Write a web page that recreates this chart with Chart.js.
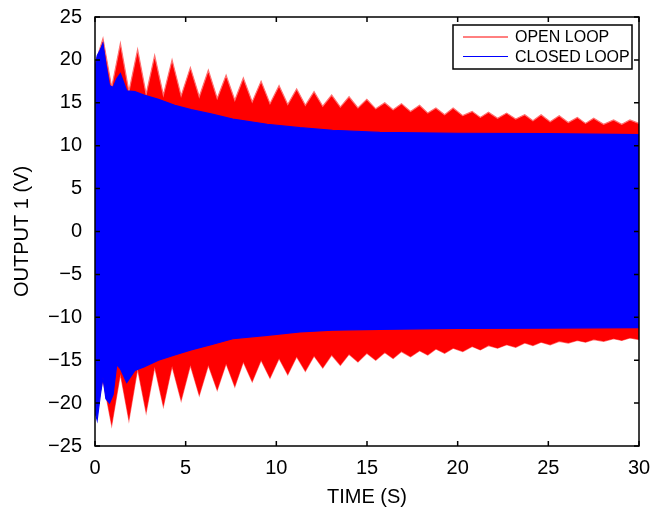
<!DOCTYPE html>
<html>
<head>
<meta charset="utf-8">
<script src="https://cdn.jsdelivr.net/npm/chart.js@4.4.1/dist/chart.umd.min.js"></script>
<style>
  html, body { margin: 0; padding: 0; background: #fff; }
</style>
</head>
<body>
<canvas id="chart" width="654" height="515"></canvas>
<script>
const SERIES_NAMES = ["OPEN LOOP", "CLOSED LOOP"];
const SERIES_COLORS = ["#ff0000", "#0000ff"];
const EDGE_COLORS = ["#ff7070", "#0000ff"];
const X_TICKS = [0, 5, 10, 15, 20, 25, 30];
const Y_TICKS = [-25, -20, -15, -10, -5, 0, 5, 10, 15, 20, 25];

const openTime = [0,
  0.44, 0.92, 1.40, 1.87, 2.35, 2.82, 3.29, 3.77, 4.25, 4.75,
  5.26, 5.75, 6.25, 6.74, 7.23, 7.71, 8.18, 8.67, 9.16, 9.65,
  10.15, 10.63, 11.12, 11.6, 12.08, 12.56, 13.05, 13.53, 14.01, 14.5,
  14.99, 15.48, 15.98, 16.44, 16.9, 17.4, 17.9, 18.35, 18.8, 19.28,
  19.75, 20.28, 20.8, 21.25, 21.7, 22.2, 22.7, 23.2, 23.7, 24.15,
  24.6, 25.1, 25.6, 26.1, 26.6, 27.05, 27.5, 28.05, 28.6, 29.05,
  29.5, 30];
const openUpper = [19.5,
  22.5, 16.8, 21.9, 16.3, 21.2, 16.0, 20.5, 15.9, 20.0, 15.8,
  19.1, 15.7, 18.8, 15.5, 18.2, 15.3, 17.9, 15.1, 17.5, 14.9,
  17.0, 14.8, 16.6, 14.7, 16.3, 14.6, 15.9, 14.5, 15.7, 14.4,
  15.4, 14.3, 15.0, 14.2, 14.9, 14.0, 14.7, 13.8, 14.4, 13.6,
  14.4, 13.5, 14.0, 13.3, 13.9, 13.2, 13.8, 13.1, 13.6, 12.9,
  13.6, 12.8, 13.5, 12.7, 13.3, 12.6, 13.2, 12.5, 13.0, 12.5,
  13.0, 12.6];
const openLower = [-21.5,
  -17.3, -22.6, -16.6, -22.0, -16.0, -21.1, -15.8, -20.4, -15.7, -19.7,
  -15.6, -19.1, -15.6, -18.5, -15.4, -18.1, -15.2, -17.5, -15.0, -17.1,
  -14.8, -16.7, -14.6, -16.3, -14.5, -15.9, -14.4, -15.6, -14.3, -15.2,
  -14.2, -15.0, -14.1, -14.8, -14.0, -14.6, -13.9, -14.4, -13.7, -14.2,
  -13.6, -14.0, -13.4, -13.8, -13.3, -13.6, -13.2, -13.5, -13.0, -13.3,
  -12.9, -13.2, -12.8, -13.0, -12.7, -12.9, -12.6, -12.8, -12.5, -12.7,
  -12.4, -12.6];

// closed loop envelope
const closedTime = [0, 0.12, 0.3, 0.44, 0.6, 0.8, 1.0, 1.2, 1.4, 1.75, 2.2, 2.7,
  3.5, 4.4, 5.3, 6.4, 7.6, 9.5, 11.3, 13.1, 15.7, 20, 25, 30];
const closedUpper = [19.0, 20.5, 21.2, 21.9, 19.5, 17.0, 16.8, 17.8, 18.4, 16.4, 16.3, 15.9,
  15.4, 14.7, 14.2, 13.7, 13.1, 12.5, 12.1, 11.8, 11.55, 11.45, 11.4, 11.3];
const closedLower = [-21.0, -22.0, -19.0, -17.0, -19.5, -20.0, -19.0, -15.5, -16.0, -17.6, -16.2, -15.8,
  -15.0, -14.4, -13.8, -13.2, -12.5, -12.1, -11.7, -11.5, -11.4, -11.3, -11.25, -11.2];

const TICK_LEN = 5;
const FONT = "'Liberation Sans', Arial, sans-serif";

function toPoints(xs, ys) {
  return xs.map((x, i) => ({ x, y: ys[i] }));
}

// upper edge fills down to the lower edge drawn by the next dataset
function edge(label, xs, ys, color, stroke, fill) {
  return {
    label,
    data: toPoints(xs, ys),
    borderColor: stroke,
    backgroundColor: color,
    borderWidth: 1.2,
    pointRadius: 0,
    fill,
    tension: 0,
  };
}

const framePlugin = {
  id: "frame",
  afterDatasetsDraw(chart) {
    const { ctx, chartArea: a, scales: { x, y } } = chart;
    ctx.save();
    ctx.strokeStyle = "#000";
    ctx.lineWidth = 1.5;
    ctx.beginPath();
    x.ticks.forEach((t) => {
      const px = x.getPixelForValue(t.value);
      ctx.moveTo(px, a.bottom);
      ctx.lineTo(px, a.bottom - TICK_LEN);
      ctx.moveTo(px, a.top);
      ctx.lineTo(px, a.top + TICK_LEN);
    });
    y.ticks.forEach((t) => {
      const py = y.getPixelForValue(t.value);
      ctx.moveTo(a.left, py);
      ctx.lineTo(a.left + TICK_LEN, py);
      ctx.moveTo(a.right, py);
      ctx.lineTo(a.right - TICK_LEN, py);
    });
    ctx.stroke();
    ctx.strokeRect(a.left, a.top, a.width, a.height);
    ctx.restore();
  },
};

const legendPlugin = {
  id: "boxLegend",
  afterDraw(chart) {
    const { ctx, chartArea: a } = chart;
    const w = 179, h = 44;
    const left = a.right - 7 - w;
    const top = a.top + 8;
    ctx.save();
    ctx.fillStyle = "#fff";
    ctx.fillRect(left, top, w, h);
    ctx.strokeStyle = "#000";
    ctx.lineWidth = 1.5;
    ctx.strokeRect(left, top, w, h);
    ctx.font = "16px " + FONT;
    ctx.textBaseline = "middle";
    SERIES_NAMES.forEach((name, i) => {
      const yy = top + 12 + i * 19.5;
      ctx.strokeStyle = SERIES_COLORS[i];
      ctx.lineWidth = 1;
      ctx.beginPath();
      ctx.moveTo(left + 10, yy);
      ctx.lineTo(left + 55, yy);
      ctx.stroke();
      ctx.fillStyle = "#000";
      ctx.fillText(name, left + 62, yy + 1);
    });
    ctx.restore();
  },
};

new Chart(document.getElementById("chart"), {
  type: "line",
  data: {
    datasets: [
      edge(SERIES_NAMES[1], closedTime, closedUpper, SERIES_COLORS[1], EDGE_COLORS[1], "+1"),
      edge(SERIES_NAMES[1], closedTime, closedLower, SERIES_COLORS[1], EDGE_COLORS[1], false),
      edge(SERIES_NAMES[0], openTime, openUpper, SERIES_COLORS[0], EDGE_COLORS[0], "+1"),
      edge(SERIES_NAMES[0], openTime, openLower, SERIES_COLORS[0], EDGE_COLORS[0], false),
    ],
  },
  options: {
    responsive: false,
    animation: false,
    layout: { padding: { top: 17, right: 15, left: 0, bottom: 0 } },
    plugins: {
      legend: { display: false },
      tooltip: { enabled: false },
    },
    scales: {
      x: {
        type: "linear",
        min: 0,
        max: 30,
        afterBuildTicks: (scale) => { scale.ticks = X_TICKS.map((v) => ({ value: v })); },
        afterFit: (scale) => {
          scale.height = 69;
          scale.paddingLeft = 0;
          scale.paddingRight = 0;
        },
        grid: { display: false, drawTicks: false },
        border: { display: false },
        ticks: { color: "#000", padding: 10, font: { family: FONT, size: 20 }, maxRotation: 0 },
        title: { display: true, text: "TIME (S)", color: "#000", font: { family: FONT, size: 20 }, padding: { top: 0, bottom: 6 } },
      },
      y: {
        type: "linear",
        min: -25,
        max: 25,
        afterBuildTicks: (scale) => { scale.ticks = Y_TICKS.map((v) => ({ value: v })); },
        afterFit: (scale) => {
          scale.width = 95;
          scale.paddingTop = 0;
          scale.paddingBottom = 0;
        },
        grid: { display: false, drawTicks: false },
        border: { display: false },
        ticks: {
          color: "#000",
          padding: 13,
          font: { family: FONT, size: 20 },
          callback: (v) => String(v).replace("-", "\u2212"),
        },
        title: { display: true, text: "OUTPUT 1 (V)", color: "#000", font: { family: FONT, size: 20 }, padding: { top: 10, bottom: 0 } },
      },
    },
  },
  plugins: [framePlugin, legendPlugin],
});
</script>
</body>
</html>
